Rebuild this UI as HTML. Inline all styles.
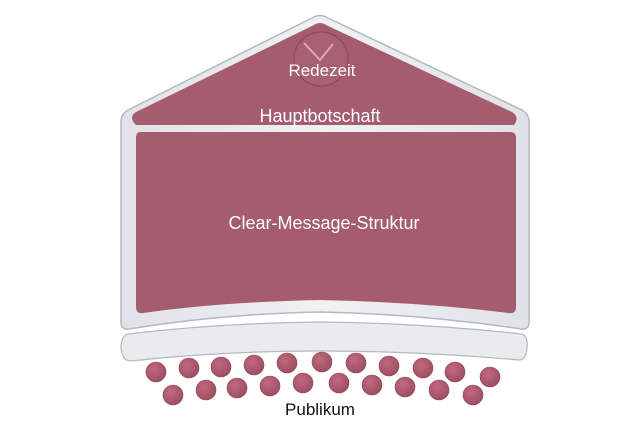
<!DOCTYPE html>
<html><head><meta charset="utf-8"><style>
html,body{margin:0;padding:0;background:#fff;width:640px;height:425px;overflow:hidden}
text{font-family:"Liberation Sans","DejaVu Sans",sans-serif}
</style></head><body>
<svg width="640" height="425" viewBox="0 0 640 425" xmlns="http://www.w3.org/2000/svg">
<defs>
<linearGradient id="fr" x1="0" y1="0" x2="1" y2="0">
<stop offset="0" stop-color="#dfe2e7"/><stop offset="0.5" stop-color="#f0f1f3"/><stop offset="1" stop-color="#dfe2e7"/>
</linearGradient>
<radialGradient id="dot" cx="0.4" cy="0.35" r="0.7">
<stop offset="0" stop-color="#c06a7e"/><stop offset="1" stop-color="#9c4c60"/>
</radialGradient>
</defs>
<path d="M312 18 Q320 13 328 18 L522 110 Q529 114 529 122 L529 322 Q529 330 521 329 Q420 314 320 312 Q220 314 129 329 Q121 330 121 322 L121 122 Q121 114 128 110 Z" fill="url(#fr)" stroke="#b4b9c0" stroke-width="1.5"/>
<path d="M314 25 Q320 21 326 25 L512 112 Q520 117 514 125 L136 125 Q128 117 136 112 Z" fill="#a55c6e"/>
<path d="M140 132 L510 132 Q516 132 516 138 L516 307 Q516 314 509 313 Q420 302 320 300 Q220 302 143 313 Q136 314 136 307 L136 138 Q136 132 140 132 Z" fill="#a55c6e"/>
<circle cx="321" cy="59" r="27" fill="#a86073" stroke="#8a4456" stroke-width="1"/>
<path d="M304 43 L320 60 L333 44" stroke="#d8a9b4" stroke-width="2" fill="none"/>
<text x="322" y="76" text-anchor="middle" font-size="17" fill="#fff">Redezeit</text>
<text x="320" y="122" text-anchor="middle" font-size="18" fill="#fff">Hauptbotschaft</text>
<text x="324" y="229" text-anchor="middle" font-size="18" fill="#fff">Clear-Message-Struktur</text>
<path d="M128 334 Q220 323 320 322 Q420 323 522 334 Q528 336 527 348 Q526 360 519 360 Q420 351 320 351 Q220 351 131 361 Q122 361 121 348 Q121 336 128 334 Z" fill="#e9ebee" stroke="#b4b9c0" stroke-width="1.2"/>
<g fill="url(#dot)" stroke="#8e4458" stroke-width="0.6">
<circle cx="156" cy="372" r="10"/><circle cx="189" cy="368" r="10"/><circle cx="221" cy="367" r="10"/><circle cx="254" cy="365" r="10"/><circle cx="287" cy="363" r="10"/><circle cx="322" cy="362" r="10"/><circle cx="356" cy="363" r="10"/><circle cx="389" cy="366" r="10"/><circle cx="423" cy="368" r="10"/><circle cx="455" cy="372" r="10"/><circle cx="490" cy="377" r="10"/>
<circle cx="173" cy="395" r="10"/><circle cx="206" cy="390" r="10"/><circle cx="237" cy="388" r="10"/><circle cx="270" cy="386" r="10"/><circle cx="303" cy="383" r="10"/><circle cx="339" cy="383" r="10"/><circle cx="372" cy="385" r="10"/><circle cx="405" cy="387" r="10"/><circle cx="439" cy="390" r="10"/><circle cx="473" cy="395" r="10"/>
</g>
<text x="320" y="415" text-anchor="middle" font-size="17" fill="#111">Publikum</text>
</svg>
</body></html>
